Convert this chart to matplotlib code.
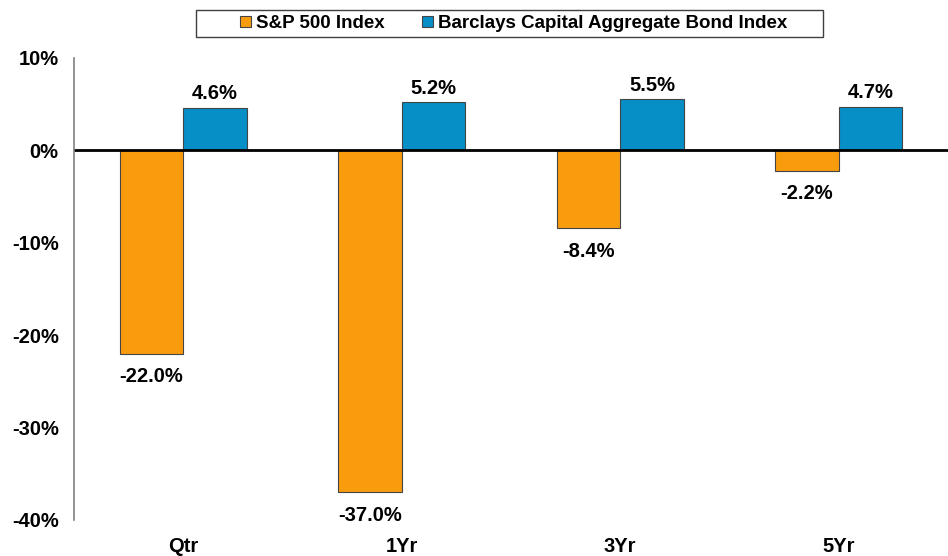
import numpy as np
import matplotlib.pyplot as plt
from matplotlib.patches import Rectangle

plt.rcParams['font.family'] = ['Liberation Sans', 'DejaVu Sans']

categories = ["Qtr", "1Yr", "3Yr", "5Yr"]
sp500 = [-22.0, -37.0, -8.4, -2.2]
bonds = [4.6, 5.2, 5.5, 4.7]
series_names = ["S&P 500 Index", "Barclays Capital Aggregate Bond Index"]

orange = "#F89C0E"
blue = "#068FC6"

fig = plt.figure(figsize=(9.48, 5.56), dpi=100)
ax = fig.add_axes([0.078, 0.065, 0.922, 0.831])

x = np.arange(len(categories))
w = 0.29
b1 = ax.bar(x - w / 2, sp500, w, color=orange, edgecolor="#444444", linewidth=0.8, label=series_names[0])
b2 = ax.bar(x + w / 2, bonds, w, color=blue, edgecolor="#444444", linewidth=0.8, label=series_names[1])

# value labels
for rect, v in zip(b1, sp500):
    ax.text(rect.get_x() + rect.get_width() / 2, v - 1.5, f"{v:.1f}%",
            ha="center", va="top", fontsize=14.5, fontweight="bold")
for rect, v in zip(b2, bonds):
    ax.text(rect.get_x() + rect.get_width() / 2, v + 0.5, f"{v:.1f}%",
            ha="center", va="bottom", fontsize=14.5, fontweight="bold")

ax.axhline(0, color="black", linewidth=2)

ax.set_xlim(-0.5, 3.5)
ax.set_ylim(-40, 10)
ax.set_yticks([10, 0, -10, -20, -30, -40])
ax.set_yticklabels([f"{t}%" for t in [10, 0, -10, -20, -30, -40]])
ax.set_xticks(x)
ax.set_xticklabels(categories)

for s in ["top", "right", "bottom"]:
    ax.spines[s].set_visible(False)
ax.spines["left"].set_color("#808080")
ax.spines["left"].set_linewidth(1.2)

ax.tick_params(axis="y", length=0, pad=11, labelsize=14.5)
ax.tick_params(axis="x", length=0, pad=12, labelsize=14.5)
for lbl in ax.get_yticklabels() + ax.get_xticklabels():
    lbl.set_fontweight("bold")

# legend box drawn separately (wide horizontal padding)
fig.patches.append(Rectangle((0.2068, 0.9335), 0.661, 0.0486, transform=fig.transFigure,
                             fill=False, edgecolor="#404040", linewidth=1.0))
leg = fig.legend(loc="center", bbox_to_anchor=(0.542, 0.958), ncol=2, frameon=False,
                 handlelength=0.55, handleheight=0.55, handletextpad=0.3,
                 columnspacing=2.0, borderpad=0.2, borderaxespad=0,
                 prop={"size": 13.5, "weight": "bold"})

fig.savefig("out.png", dpi=100)
